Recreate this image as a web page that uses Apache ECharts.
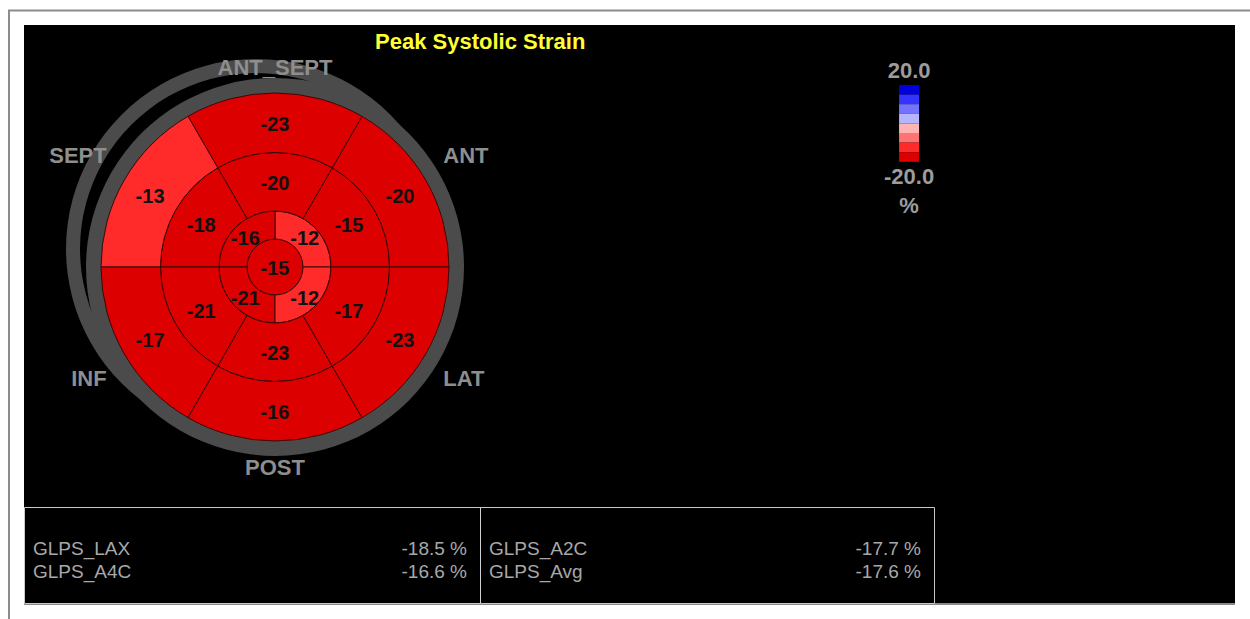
<!DOCTYPE html>
<html>
<head>
<meta charset="utf-8">
<script src="https://cdn.jsdelivr.net/npm/echarts@6/dist/echarts.min.js"></script>
<style>
  html, body { margin: 0; padding: 0; background: #ffffff; }
  #chart { width: 1250px; height: 619px; }
</style>
</head>
<body>
<div id="chart"></div>
<script>
// ---- Peak systolic strain, 17-segment bullseye (values in %) ----
const chartTitle = 'Peak Systolic Strain';
// Wall names around the rim, counterclockwise from 30° (3 o'clock = 0°)
const wallNames = ['ANT', 'ANT_SEPT', 'SEPT', 'INF', 'POST', 'LAT'];
// Segment values per ring, counterclockwise starting at 0°
const basalStrain = [-20, -23, -13, -17, -16, -23];
const midStrain = [-15, -20, -18, -21, -23, -17];
const apicalStrain = [-12, -16, -21, -12];
const apexStrain = [-15];
// Colour scale range and end labels
const scaleMin = -20;
const scaleMax = 20;
const scaleStep = 5;
const scaleLabels = ['20.0', '-20.0'];
const scaleUnit = '%';
// Global longitudinal peak strain per view
const glpsNames = ['GLPS_LAX', 'GLPS_A4C', 'GLPS_A2C', 'GLPS_Avg'];
const glpsValues = [-18.5, -16.6, -17.7, -17.6];

// ---- Layout and style ----
const FONT = '"Liberation Sans", Arial, Helvetica, sans-serif';
const SCALE_COLORS = ['#dd0000', '#ff2a2a', '#ff7373', '#ffb4b4', '#b4b4ff', '#7373ff', '#3434ff', '#0000dd'];
const RING_EDGES = [0, 28, 56, 114.5, 174];   // apex | apical | mid | basal (radius axis units)
const RIM = { r0: 173, r: 189, ghostR0: 176, ghostR: 190, ghostShift: [-19, -18], color: '#4b4b4b' };
const BULL_CENTER = [275, 267];
const PANEL = { x: 24, y: 25, w: 1211, h: 578 };
const TABLE = { x: 24, y: 507, w: 910, h: 96, split: 480, rowY: [548, 571], padL: 9, padR: 13 };

// Segments as [startAngle, endAngle, ringIndex, value]
const rings = [apexStrain, apicalStrain, midStrain, basalStrain];
const segmentData = [];
rings.forEach((vals, ring) => {
  const span = 360 / vals.length;
  vals.forEach((v, i) => segmentData.push([i * span, (i + 1) * span, ring, v]));
});

// Colour scale pieces: one per step from scaleMin to scaleMax
const pieceCount = Math.round((scaleMax - scaleMin) / scaleStep);
const pieces = [];
for (let i = 0; i < pieceCount; i++) {
  const lo = scaleMin + i * scaleStep;
  const p = { color: SCALE_COLORS[i] };
  if (i > 0) p.gt = lo;
  if (i < pieceCount - 1) p.lte = lo + scaleStep;
  pieces.push(p);
}

function wallLabel(v) {
  const k = (v - 30) / 60;
  return Number.isInteger(k) && k >= 0 && k < wallNames.length ? wallNames[k] : '';
}

const DEG = Math.PI / 180;

function pxRadius(api, r) {
  const c = api.coord([0, 0]);
  const p = api.coord([r, 0]);
  return Math.hypot(p[0] - c[0], p[1] - c[1]);
}

function renderRim(params, api) {
  const c = api.coord([0, 0]);
  const k = pxRadius(api, 100) / 100;
  return {
    type: 'group',
    children: [
      { type: 'ring', shape: { cx: c[0] + RIM.ghostShift[0], cy: c[1] + RIM.ghostShift[1], r0: RIM.ghostR0 * k, r: RIM.ghostR * k },
        style: { fill: RIM.color } },
      { type: 'ring', shape: { cx: c[0], cy: c[1], r0: RIM.r0 * k, r: RIM.r * k },
        style: { fill: RIM.color } }
    ]
  };
}

function renderSegment(params, api) {
  const a0 = api.value(0), a1 = api.value(1), ring = api.value(2), v = api.value(3);
  const c = api.coord([0, 0]);
  const rIn = pxRadius(api, RING_EDGES[ring]);
  const rOut = pxRadius(api, RING_EDGES[ring + 1]);
  const fill = api.visual('color');
  const edge = { fill: fill, stroke: '#3a0808', lineWidth: 1 };
  const body = ring === 0
    ? { type: 'circle', shape: { cx: c[0], cy: c[1], r: rOut }, style: edge }
    : { type: 'sector', shape: { cx: c[0], cy: c[1], r0: rIn, r: rOut, startAngle: -a0 * DEG, endAngle: -a1 * DEG, clockwise: false }, style: edge };
  const labelR = ring === 0 ? 0 : (RING_EDGES[ring] + RING_EDGES[ring + 1]) / 2;
  const lp = api.coord([labelR, (a0 + a1) / 2]);
  return {
    type: 'group',
    children: [
      body,
      { type: 'text', x: lp[0], y: lp[1] + 1,
        style: { text: String(v), fill: '#111111', font: 'bold 20px ' + FONT, align: 'center', verticalAlign: 'middle' } }
    ]
  };
}

// Panel, frame and GLPS table
const graphics = [
  { type: 'line', z: -20, shape: { x1: 8, y1: 10.5, x2: 1250, y2: 10.5 }, style: { stroke: '#8c8c8c', lineWidth: 2 } },
  { type: 'line', z: -20, shape: { x1: 9, y1: 10, x2: 9, y2: 619 }, style: { stroke: '#8c8c8c', lineWidth: 2 } },
  { type: 'rect', z: -20, shape: { x: PANEL.x, y: PANEL.y, width: PANEL.w, height: PANEL.h }, style: { fill: '#000000' } },
  { type: 'line', z: -19, shape: { x1: PANEL.x, y1: PANEL.y + PANEL.h + 1, x2: PANEL.x + PANEL.w, y2: PANEL.y + PANEL.h + 1 }, style: { stroke: '#8a8a8a', lineWidth: 2 } },
  { type: 'rect', z: -19, shape: { x: TABLE.x + 0.5, y: TABLE.y + 0.5, width: TABLE.w, height: TABLE.h }, style: { fill: 'none', stroke: '#c8c8c8', lineWidth: 1 } },
  { type: 'line', z: -19, shape: { x1: TABLE.split + 0.5, y1: TABLE.y, x2: TABLE.split + 0.5, y2: TABLE.y + TABLE.h }, style: { stroke: '#d0d0d0', lineWidth: 1 } }
];
const cols = [[TABLE.x, TABLE.split], [TABLE.split, TABLE.x + TABLE.w]];
glpsNames.forEach((name, i) => {
  const col = cols[Math.floor(i / 2)];
  const y = TABLE.rowY[i % 2];
  const ts = { fill: '#a8a8a8', font: '19px ' + FONT, verticalAlign: 'middle' };
  graphics.push({ type: 'text', z: -18, x: col[0] + TABLE.padL, y: y, style: Object.assign({ text: name, align: 'left' }, ts) });
  graphics.push({ type: 'text', z: -18, x: col[1] - TABLE.padR, y: y, style: Object.assign({ text: glpsValues[i].toFixed(1) + ' %', align: 'right' }, ts) });
});

const chart = echarts.init(document.getElementById('chart'), null, { renderer: 'svg', width: 1250, height: 619 });
chart.setOption({
  backgroundColor: '#ffffff',
  animation: false,
  title: {
    text: chartTitle, left: 370, top: 25,
    textStyle: { color: '#ffff33', fontSize: 22, fontWeight: 'bold', fontFamily: FONT }
  },
  polar: { center: BULL_CENTER, radius: [0, RING_EDGES[RING_EDGES.length - 1]] },
  angleAxis: {
    type: 'value', min: 0, max: 360, interval: 30, startAngle: 0, clockwise: false, z: 10,
    axisLine: { show: false }, axisTick: { show: false }, splitLine: { show: false },
    axisLabel: {
      margin: 3, padding: [12, 15, 12, 15],
      color: '#8e8e8e', fontSize: 22, fontWeight: 'bold', fontFamily: FONT, formatter: wallLabel
    }
  },
  radiusAxis: { type: 'value', min: 0, max: RING_EDGES[RING_EDGES.length - 1], show: false },
  visualMap: {
    type: 'piecewise', seriesIndex: 1, dimension: 3, pieces: pieces,
    orient: 'vertical', itemSymbol: 'rect', itemWidth: 20, itemHeight: 9.6, itemGap: 0, textGap: 9,
    text: [scaleLabels[0], scaleLabels[1] + '\n' + scaleUnit],
    left: 869, top: 41, selectedMode: false, hoverLink: false,
    textStyle: { color: '#9c9c9c', fontSize: 22, fontWeight: 'bold', fontFamily: FONT, lineHeight: 29 }
  },
  graphic: { elements: graphics },
  series: [
    { type: 'custom', name: 'rim', coordinateSystem: 'polar', z: 1, silent: true, data: [[0, 0]], renderItem: renderRim },
    { type: 'custom', name: 'strain', coordinateSystem: 'polar', z: 2, silent: true, data: segmentData, renderItem: renderSegment }
  ]
});
</script>
</body>
</html>
